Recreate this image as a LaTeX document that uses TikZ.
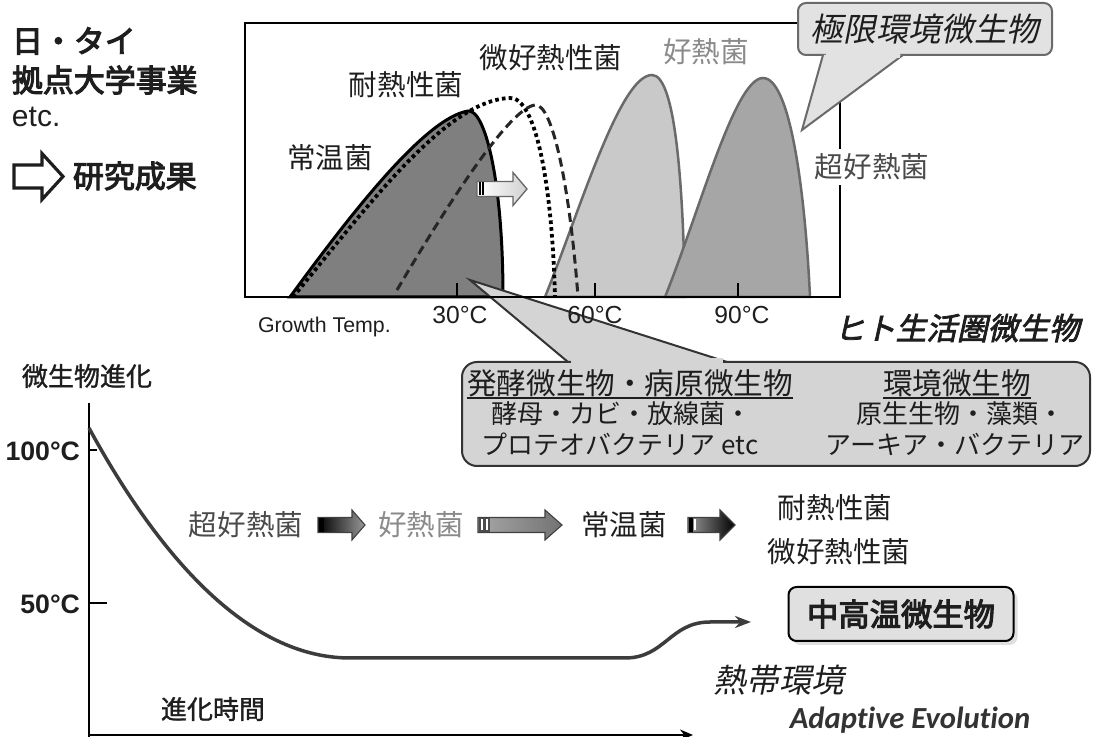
\documentclass[tikz,border=0pt]{standalone}
\usepackage{fontspec}
\setmainfont{Liberation Sans}
\newfontfamily\jp{Noto Sans CJK JP}
\newfontfamily\jpm{Noto Sans CJK JP}[FakeBold=1.2]
\newfontfamily\jpb{Noto Sans CJK JP}[FakeBold=3.5]
\newfontfamily\jpi{Noto Sans CJK JP}[FakeSlant=0.2]
\newfontfamily\jpbi{Noto Sans CJK JP}[FakeSlant=0.22,FakeBold=2.5]
\newfontfamily\adapt{Carlito}[Ligatures=NoCommon]
\usetikzlibrary{shadows,calc,arrows.meta}
\newcommand{\px}{*0.75pt}
\definecolor{txt}{HTML}{1E1E1E}
\definecolor{cMeso}{HTML}{7F7F7F}
\definecolor{cThermo}{HTML}{C9C9C9}
\definecolor{cHyper}{HTML}{A6A6A6}
\definecolor{cEdge}{HTML}{6A6A6A}
\definecolor{cCall}{HTML}{D4D4D4}
\definecolor{cCallTop}{HTML}{E2E2E2}
\definecolor{cGrayTxt}{HTML}{8A8A8A}
\definecolor{cDarkTxt}{HTML}{4A4A4A}
\definecolor{cCurve}{HTML}{3C3C3C}
% block arrow: name, x tail, x tip, y, head length, half shaft, half head, options
\newcommand{\barrow}[8]{%
  \coordinate (#1) at (#2,#4);
  \path[#8] (#2,#4-#6) -- (#3-#5,#4-#6) -- (#3-#5,#4-#7) -- (#3,#4) -- (#3-#5,#4+#7) -- (#3-#5,#4+#6) -- (#2,#4+#6) -- cycle;}
\tikzset{
  lbl/.style={inner sep=0pt, outer sep=0pt, text=txt},
  jpM/.style={lbl, font=\jp\fontsize{21.4pt}{23pt}\selectfont},
  jpS/.style={lbl, font=\jp\fontsize{19.5pt}{21pt}\selectfont},
  jpSm/.style={lbl, font=\jpm\fontsize{19.5pt}{21pt}\selectfont},
  jpH/.style={lbl, font=\jp\fontsize{22.2pt}{24pt}\selectfont},
  jpBig/.style={lbl, font=\jpb\fontsize{23.2pt}{24pt}\selectfont},
  degr/.style={lbl, font=\fontsize{18.5pt}{20pt}\selectfont},
  degb/.style={lbl, font=\bfseries\fontsize{20pt}{22pt}\selectfont},
  dotcurve/.style={line width=3.8\px, dash pattern=on 3.6\px off 3.2\px, black},
  dashcurve/.style={line width=3\px, dash pattern=on 9\px off 5\px, black!85},
  barr/.style={draw=black!75, line width=1.1\px, line join=miter},
}
\begin{document}
\begin{tikzpicture}[x=0.75pt,y=-0.75pt]
\useasboundingbox (0,0) rectangle (1093,737);
\fill[white] (0,0) rectangle (1093,737);

% ---------- top left ----------
\node[jpBig, anchor=west] (nt) at (12,41) {日・タイ};
\node[jpBig, anchor=west] (kt) at (12,80) {拠点大学事業};
\node[lbl, anchor=west, font=\fontsize{22.5pt}{24pt}\selectfont] (etc) at (12,117) {etc.};
\barrow{ra}{14}{63}{176.5}{21}{11.5}{23}{draw=txt, fill=white, line width=3.2\px, line join=miter}
\node[jpBig, anchor=west] (rk) at (73,176) {研究成果};

% ---------- chart ----------
\draw[line width=2\px] (245,23) rectangle (840,297);
\filldraw[fill=cThermo, draw=cEdge, line width=2.5\px] (545,297) .. controls (580,210) and (620,75) .. (652,75) .. controls (675,75) and (683,180) .. (685,297) -- cycle;
\filldraw[fill=cHyper, draw=cEdge, line width=2.5\px] (665,297) .. controls (700,210) and (735,78) .. (763,78) .. controls (790,78) and (805,190) .. (810,297) -- cycle;
\filldraw[fill=cMeso, draw=black, line width=3\px] (290,297) .. controls (350,215) and (425,118) .. (468,111) .. controls (485,109) and (503,180) .. (503,297) -- cycle;
\draw[dotcurve] (293,297) .. controls (365,210) and (445,100) .. (510,98) .. controls (535,97) and (552,180) .. (555,297);
\draw[dashcurve] (397,290) .. controls (450,200) and (510,108) .. (535,105) .. controls (553,103) and (570,190) .. (578,297);

\barrow{ca}{477}{527}{189}{14}{7.5}{16.5}{draw=black!60, line width=1.3\px, left color=white, right color=black!18, line join=miter}
\fill[black] ($(ca)+(1.5,-6.5)$) rectangle ($(ca)+(3.5,6.5)$);
\fill[black] ($(ca)+(5,-6.5)$) rectangle ($(ca)+(7,6.5)$);

\node[jpM] (lm) at (330,158) {常温菌};
\node[jpM] (lt) at (406,85) {耐熱性菌};
\node[jpM] (lmt) at (551,58) {微好熱性菌};
\node[jpM, text=cGrayTxt] (lth) at (706,52) {好熱菌};
\node[jpM, text=cDarkTxt, fill=white, inner sep=4pt] (lhy) at (872,167) {超好熱菌};

\foreach \tx in {457,595,738} \draw[line width=2\px] (\tx,283) -- (\tx,297);

% upper callout
\node[lbl, draw=cEdge, fill=cCallTop, rounded corners=8\px, line width=2\px, minimum width=254\px, minimum height=52\px, font=\jpi\fontsize{24.5pt}{26pt}\selectfont] (kyo) at (925,29) {極限環境微生物};
\coordinate (kyoA) at ($(kyo.south west)+(25,0)$);
\coordinate (kyoB) at ($(kyo.south west)+(105,0)$);
\coordinate (kyoT) at (802,130);
\fill[cCallTop] (kyoA) -- (kyoT) -- (kyoB) -- cycle;
\draw[cEdge, line width=2\px] (kyoA) -- (kyoT) -- (kyoB);
\fill[cCallTop] ($(kyoA)+(2.5,-5)$) rectangle ($(kyoB)+(-3.5,3)$);

% lower callout
\coordinate (humT) at (470,280);
\coordinate (humA) at (568,362);
\coordinate (humB) at (727,362);
\fill[cCall] (humA) -- (humT) -- (humB) -- cycle;
\draw[black!80, line width=2\px] (humA) -- (humT) -- (humB);
\node[lbl, draw=black!80, fill=cCall, rounded corners=15\px, line width=2\px, minimum width=628\px, minimum height=104\px] (hum) at (776,414) {};
\fill[cCall] ($(humA)+(3,-4)$) rectangle ($(humB)+(-4,4)$);

\draw[line width=2.5\px] (245,297) -- (840,297);

\node[degr] (d30) at (460,315) {30°C};
\node[degr] (d60) at (595,315) {60°C};
\node[degr] (d90) at (742,315) {90°C};
\node[lbl, anchor=west, font=\fontsize{16pt}{17pt}\selectfont] (gt) at (258,327) {Growth Temp.};

\node[lbl, font=\jpbi\fontsize{23pt}{25pt}\selectfont] (hito) at (957,328) {ヒト生活圏微生物};

\node[jpH] (h1) at (630,383) {発酵微生物・病原微生物};
\node[jpH] (h2) at (957,383) {環境微生物};
\draw[line width=1.6\px, txt] ($(h1.base west)+(0,4)$) -- ($(h1.base east)+(0,4)$);
\draw[line width=1.6\px, txt] ($(h2.base west)+(0,4)$) -- ($(h2.base east)+(0,4)$);
\node[jpS] (l1) at (621,414) {酵母・カビ・放線菌・};
\node[jpS] (l2) at (620,444) {プロテオバクテリア etc};
\node[jpS] (r1) at (960,414) {原生生物・藻類・};
\node[jpS] (r2) at (955,444) {アーキア・バクテリア};

% ---------- bottom graph ----------
\coordinate (O) at (89,735);
\coordinate (Ytop) at (89,403);
\coordinate (Xend) at (693,735);
\draw[line width=2.5\px] (Ytop) -- (89,737);
\draw[line width=2\px, -{Stealth[length=13\px,width=11\px]}] (O) -- (Xend);
\draw[line width=2\px] (89,450) -- (97,450);
\draw[line width=2\px] (89,603) -- (107,603);
\node[degb, anchor=east] (c100) at (80,451) {100°C};
\node[degb, anchor=east] (c50) at (80,604) {50°C};
\node[jpSm] (mse) at (87,376) {微生物進化};
\node[jpSm] (sjk) at (213,709) {進化時間};

\coordinate (cEnd) at (751,622);
\draw[cCurve, line width=3.5\px, -{Stealth[length=16\px,width=12\px]}] (89,428) .. controls (150,540) and (240,658) .. (350,658) -- (625,658) .. controls (665,658) and (670,622) .. (710,622) -- (cEnd);

\node[jpM, text=cDarkTxt] (s1) at (246,525) {超好熱菌};
\node[jpM, text=cGrayTxt] (s2) at (421,525) {好熱菌};
\node[jpM] (s3) at (624,525) {常温菌};
\node[jpM] (s4) at (835,508) {耐熱性菌};
\node[jpM] (s5) at (839,552) {微好熱性菌};

\barrow{a1}{318}{365}{525}{13}{7.5}{15}{barr, left color=black, right color=black!40}
\fill[black] ($(a1)+(0.5,-7)$) rectangle ($(a1)+(6,7)$);
\barrow{a2}{478}{562}{525}{17}{7.5}{15}{barr, left color=black!35, right color=black!55}
\fill[black!70] ($(a2)+(0.5,-7)$) rectangle ($(a2)+(12,7)$);
\fill[white] ($(a2)+(3,-5.5)$) rectangle ($(a2)+(5,5.5)$);
\fill[white] ($(a2)+(7.5,-5.5)$) rectangle ($(a2)+(9.5,5.5)$);
\barrow{a3}{688}{735}{525}{15}{7.5}{15}{barr, left color=black!40, right color=black}
\fill[black] ($(a3)+(0.5,-7)$) rectangle ($(a3)+(5,7)$);
\fill[white] ($(a3)+(6,-5.5)$) rectangle ($(a3)+(7.5,5.5)$);

\node[lbl, draw=black, line width=2\px, fill=black!12, rounded corners=8\px, minimum width=225\px, minimum height=54\px, drop shadow={shadow xshift=3pt, shadow yshift=-3pt, opacity=0.25}, font=\jpb\fontsize{23.5pt}{25pt}\selectfont] (cht) at (901,614) {中高温微生物};
\node[lbl, font=\jpi\fontsize{24.5pt}{26pt}\selectfont] (ntk) at (779,680) {熱帯環境};
\node[lbl, text=black!80, font=\adapt\bfseries\itshape\fontsize{23pt}{25pt}\selectfont] (ae) at (910,720) {Adaptive Evolution};
\end{tikzpicture}
\end{document}
